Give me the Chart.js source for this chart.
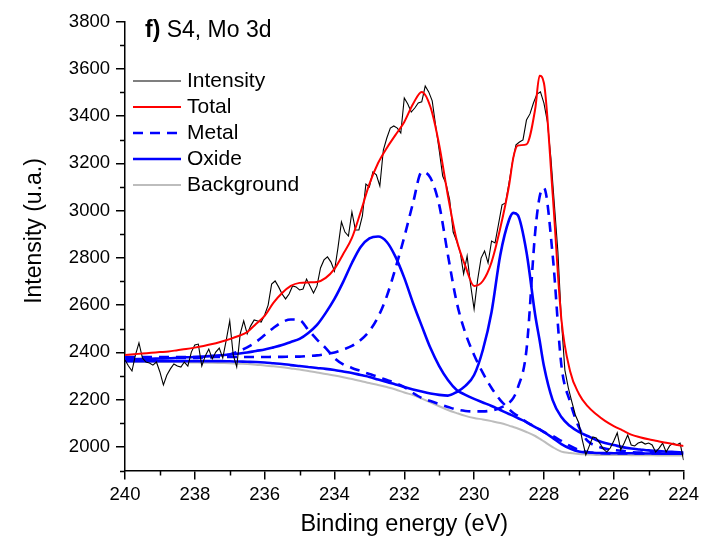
<!DOCTYPE html>
<html>
<head>
<meta charset="utf-8">
<title>S4, Mo 3d</title>
<script src="https://cdn.jsdelivr.net/npm/chart.js@4.4.1/dist/chart.umd.min.js"></script>
<style>
  html, body { margin: 0; padding: 0; background: #fff; }
  #wrap { width: 703px; height: 543px; }
</style>
</head>
<body>
<div id="wrap"><canvas id="chart-mo3d" width="703" height="543"></canvas></div>
<script>
// raw scan, 0.1 eV steps
const scanEnergy = [
  240, 239.9, 239.8, 239.7, 239.6, 239.5, 239.4, 239.3, 239.2, 239.1,
  239, 238.9, 238.8, 238.7, 238.6, 238.5, 238.4, 238.3, 238.2, 238.1,
  238, 237.9, 237.8, 237.7, 237.6, 237.5, 237.4, 237.3, 237.2, 237.1,
  237, 236.9, 236.8, 236.7, 236.6, 236.5, 236.4, 236.3, 236.2, 236.1,
  236, 235.9, 235.8, 235.7, 235.6, 235.5, 235.4, 235.3, 235.2, 235.1,
  235, 234.9, 234.8, 234.7, 234.6, 234.5, 234.4, 234.3, 234.2, 234.1,
  234, 233.9, 233.8, 233.7, 233.6, 233.5, 233.4, 233.3, 233.2, 233.1,
  233, 232.9, 232.8, 232.7, 232.6, 232.5, 232.4, 232.3, 232.2, 232.1,
  232, 231.9, 231.8, 231.7, 231.6, 231.5, 231.4, 231.3, 231.2, 231.1,
  231, 230.9, 230.8, 230.7, 230.6, 230.5, 230.4, 230.3, 230.2, 230.1,
  230, 229.9, 229.8, 229.7, 229.6, 229.5, 229.4, 229.3, 229.2, 229.1,
  229, 228.9, 228.8, 228.7, 228.6, 228.5, 228.4, 228.3, 228.2, 228.1,
  228, 227.9, 227.8, 227.7, 227.6, 227.5, 227.4, 227.3, 227.2, 227.1,
  227, 226.9, 226.8, 226.7, 226.6, 226.5, 226.4, 226.3, 226.2, 226.1,
  226, 225.9, 225.8, 225.7, 225.6, 225.5, 225.4, 225.3, 225.2, 225.1,
  225, 224.9, 224.8, 224.7, 224.6, 224.5, 224.4, 224.3, 224.2, 224.1,
  224
];
const intensity = [
  2368, 2342, 2321, 2389, 2440, 2376, 2359, 2355, 2346, 2359,
  2317, 2262, 2304, 2330, 2351, 2342, 2338, 2359, 2342, 2401,
  2431, 2435, 2342, 2385, 2414, 2372, 2401, 2418, 2376, 2452,
  2533, 2389, 2338, 2478, 2533, 2478, 2512, 2537, 2533, 2528,
  2558, 2600, 2689, 2702, 2677, 2647, 2626, 2647, 2681, 2677,
  2664, 2668, 2710, 2681, 2651, 2681, 2757, 2791, 2804, 2782,
  2744, 2842, 2952, 2909, 2892, 2994, 2918, 2918, 2977, 3112,
  3100, 3163, 3151, 3104, 3256, 3307, 3349, 3358, 3349, 3328,
  3476, 3451, 3417, 3434, 3455, 3460, 3527, 3502, 3464, 3358,
  3256, 3146, 3112, 3045, 2909, 2871, 2825, 2732, 2808, 2685,
  2583, 2706, 2799, 2829, 2778, 2871, 2863, 2943, 3024, 3032,
  3117, 3206, 3278, 3290, 3299, 3383, 3409, 3455, 3493, 3502,
  3455, 3375, 3222, 3024, 2825, 2537, 2325, 2249, 2190, 2135,
  2101, 2029, 1966, 2004, 2042, 2038, 2016, 1991, 1978, 1995,
  2025, 2059, 1987, 2016, 2050, 2008, 2004, 2016, 2021, 2012,
  2016, 2008, 1978, 1995, 2016, 1978, 2004, 2016, 2008, 2016,
  1944
];

// fitted envelope and components
const fitEnergy = [
  240, 239.75, 239.5, 239.25, 239, 238.75, 238.5, 238.25, 238, 237.75,
  237.5, 237.25, 237, 236.75, 236.5, 236.25, 236, 235.75, 235.5, 235.25,
  235, 234.75, 234.5, 234.25, 234, 233.75, 233.5, 233.25, 233, 232.75,
  232.5, 232.25, 232, 231.75, 231.5, 231.25, 231, 230.75, 230.5, 230.25,
  230, 229.75, 229.5, 229.25, 229, 228.875, 228.75, 228.5, 228.25, 228.125,
  228, 227.75, 227.5, 227.25, 227, 226.75, 226.5, 226.25, 226, 225.75,
  225.5, 225.25, 225, 224.75, 224.5, 224.25, 224
];
const total = [
  2389, 2392, 2395, 2398, 2401, 2404, 2409, 2414, 2420, 2427,
  2435, 2445, 2456, 2469, 2486, 2520, 2554, 2609, 2651, 2681,
  2694, 2696, 2698, 2715, 2753, 2816, 2884, 2994, 3112, 3201,
  3265, 3320, 3375, 3451, 3502, 3438, 3278, 3062, 2876, 2765,
  2681, 2702, 2782, 2926, 3105, 3225, 3275, 3280, 3430, 3570,
  3540, 3070, 2540, 2320, 2225, 2172, 2138, 2110, 2088, 2070,
  2052, 2041, 2032, 2025, 2017, 2010, 2004
];
// Mo metal: 231.4 eV line, and the 235.3 / 228.0 eV line
const metal32 = [
  2380, 2380, 2380, 2380, 2380, 2380, 2380, 2380, 2380, 2380,
  2380, 2380, 2380, 2380, 2380, 2380, 2380, 2381, 2381, 2382,
  2382, 2385, 2387, 2393, 2399, 2412, 2427, 2452, 2490, 2550,
  2638, 2757, 2888, 3032, 3163, 3138, 3024, 2812, 2613, 2482,
  2389, 2313, 2249, 2198, 2160, 2143, 2131, 2105, 2084, 2074,
  2063, 2046, 2025, 2004, 1987, 1978, 1974, 1972, 1972, 1972,
  1972, 1972, 1972, 1972, 1972, 1972, 1972
];
const metal52 = [
  2376, 2376, 2376, 2376, 2376, 2376, 2376, 2376, 2376, 2378,
  2380, 2385, 2391, 2404, 2421, 2444, 2473, 2503, 2528, 2539,
  2537, 2495, 2454, 2418, 2376, 2349, 2334, 2321, 2308, 2296,
  2283, 2270, 2253, 2228, 2207, 2194, 2181, 2169, 2158, 2152,
  2150, 2150, 2154, 2165, 2186, 2207, 2249, 2410, 2909, 3057,
  3096, 2812, 2346, 2190, 2084, 2025, 2004, 1993, 1987, 1983,
  1978, 1976, 1976, 1974, 1974, 1974, 1974
];
// oxide: 232.8 eV and 228.9 eV lines
const oxideHigh = [
  2370, 2371, 2372, 2373, 2374, 2375, 2377, 2379, 2380, 2382,
  2385, 2388, 2391, 2395, 2399, 2406, 2412, 2421, 2431, 2444,
  2457, 2482, 2516, 2567, 2626, 2698, 2778, 2846, 2882, 2890,
  2867, 2804, 2715, 2609, 2512, 2418, 2342, 2283, 2241, 2220,
  2203, 2188, 2173, 2156, 2139, 2131, 2122, 2105, 2084, 2074,
  2063, 2038, 2012, 1993, 1980, 1976, 1974, 1974, 1973, 1973,
  1973, 1972, 1972, 1972, 1971, 1971, 1971
];
const oxideLow = [
  2363, 2363, 2363, 2363, 2363, 2363, 2363, 2363, 2363, 2363,
  2363, 2363, 2362, 2361, 2360, 2359, 2357, 2354, 2351, 2346,
  2342, 2338, 2334, 2330, 2325, 2319, 2313, 2304, 2296, 2285,
  2275, 2264, 2253, 2243, 2234, 2226, 2220, 2217, 2232, 2258,
  2304, 2410, 2571, 2812, 2960, 2990, 2981, 2825, 2558, 2452,
  2342, 2198, 2126, 2088, 2063, 2046, 2029, 2016, 2008, 1999,
  1993, 1989, 1985, 1983, 1980, 1978, 1976
];
const background = [
  2359, 2359, 2359, 2359, 2359, 2359, 2359, 2358, 2357, 2356,
  2356, 2355, 2354, 2352, 2351, 2348, 2344, 2341, 2337, 2332,
  2327, 2321, 2315, 2308, 2302, 2295, 2287, 2279, 2270, 2262,
  2253, 2243, 2230, 2219, 2204, 2188, 2172, 2156, 2143, 2131,
  2122, 2116, 2109, 2101, 2090, 2084, 2078, 2063, 2046, 2035,
  2023, 1999, 1980, 1974, 1970, 1968, 1966, 1966, 1966, 1966,
  1965, 1965, 1965, 1964, 1964, 1963, 1963
];

const minorX = [239, 237, 235, 233, 231, 229, 227, 225];
const minorY = [1900, 2100, 2300, 2500, 2700, 2900, 3100, 3300, 3500, 3700];
const legendOrder = ['Intensity', 'Total', 'Metal', 'Oxide', 'Background'];

const FONT = '"Liberation Sans", Arial, sans-serif';
const BLUE = '#0000ff';
const DASH = [10, 7];

const pts = (xs, ys) => xs.map((x, i) => ({ x, y: ys[i] }));

// ticks, axis titles, legend and panel label
const panelDecor = {
  id: 'panelDecor',
  afterDraw(chart) {
    const { ctx, chartArea, scales } = chart;
    ctx.save();

    ctx.strokeStyle = '#000';
    ctx.lineWidth = 1.5;
    ctx.beginPath();
    minorX.forEach(v => {
      const px = Math.round(scales.x.getPixelForValue(v)) + 0.5;
      ctx.moveTo(px, chartArea.bottom);
      ctx.lineTo(px, chartArea.bottom + 5);
    });
    minorY.forEach(v => {
      const py = Math.round(scales.y.getPixelForValue(v)) + 0.5;
      ctx.moveTo(chartArea.left, py);
      ctx.lineTo(chartArea.left - 5, py);
    });
    ctx.stroke();

    ctx.fillStyle = '#000';
    ctx.textBaseline = 'middle';

    // y axis title
    ctx.save();
    ctx.translate(35, 231);
    ctx.rotate(-Math.PI / 2);
    ctx.textAlign = 'center';
    ctx.font = `23px ${FONT}`;
    ctx.fillText('Intensity (u.a.)', 0, 0);
    ctx.restore();

    // panel label
    ctx.textAlign = 'left';
    ctx.font = `bold 23px ${FONT}`;
    ctx.fillText('f)', 145, 31);
    const w = ctx.measureText('f)').width;
    ctx.font = `23px ${FONT}`;
    ctx.fillText(' S4, Mo 3d', 145 + w, 31);

    // legend
    ctx.font = `21px ${FONT}`;
    legendOrder.forEach((name, i) => {
      const ds = chart.data.datasets.find(d => d.label === name);
      const y = 81 + i * 26;
      ctx.strokeStyle = ds.borderColor;
      ctx.lineWidth = ds.borderWidth;
      ctx.setLineDash(ds.borderDash || []);
      ctx.beginPath();
      ctx.moveTo(133, y);
      ctx.lineTo(181, y);
      ctx.stroke();
      ctx.setLineDash([]);
      ctx.fillText(name, 187, y);
    });

    ctx.restore();
  }
};

new Chart(document.getElementById('chart-mo3d'), {
  type: 'line',
  data: {
    datasets: [
      { label: 'Total', data: pts(fitEnergy, total), borderColor: '#ff0000', borderWidth: 2, cubicInterpolationMode: 'monotone' },
      { label: 'Intensity', data: pts(scanEnergy, intensity), borderColor: '#000000', borderWidth: 1.1, tension: 0 },
      { label: 'Metal', data: pts(fitEnergy, metal32), borderColor: BLUE, borderWidth: 2.6, borderDash: DASH, cubicInterpolationMode: 'monotone' },
      { label: 'Metal 5/2', data: pts(fitEnergy, metal52), borderColor: BLUE, borderWidth: 2.6, borderDash: DASH, cubicInterpolationMode: 'monotone' },
      { label: 'Oxide', data: pts(fitEnergy, oxideHigh), borderColor: BLUE, borderWidth: 2.6, cubicInterpolationMode: 'monotone' },
      { label: 'Oxide 5/2', data: pts(fitEnergy, oxideLow), borderColor: BLUE, borderWidth: 2.6, cubicInterpolationMode: 'monotone' },
      { label: 'Background', data: pts(fitEnergy, background), borderColor: '#bdbdbd', borderWidth: 2, cubicInterpolationMode: 'monotone' }
    ]
  },
  options: {
    responsive: false,
    animation: false,
    events: [],
    layout: { padding: { left: 0, right: 18, top: 21.5, bottom: 0 } },
    elements: { point: { radius: 0 }, line: { fill: false } },
    plugins: { legend: { display: false }, tooltip: { enabled: false } },
    scales: {
      x: {
        type: 'linear',
        reverse: true,
        min: 224,
        max: 240,
        afterFit: s => { s.height = 72.5; },
        ticks: { stepSize: 2, color: '#000', padding: 4, maxRotation: 0, font: { family: FONT, size: 18.5 }, callback: v => String(v) },
        grid: { drawOnChartArea: false, color: '#000', lineWidth: 1.5, tickLength: 9 },
        border: { color: '#000', width: 1.5 },
        title: { display: true, text: 'Binding energy (eV)', color: '#000', font: { family: FONT, size: 23.5 }, padding: { top: 0, bottom: 4 } }
      },
      y: {
        min: 1900,
        max: 3800,
        afterFit: s => { s.width = 125; },
        ticks: { stepSize: 200, includeBounds: false, color: '#000', padding: 6, font: { family: FONT, size: 18.5 }, callback: v => String(v) },
        grid: { drawOnChartArea: false, color: '#000', lineWidth: 1.5, tickLength: 9 },
        border: { color: '#000', width: 1.5 }
      }
    }
  },
  plugins: [panelDecor]
});
</script>
</body>
</html>
